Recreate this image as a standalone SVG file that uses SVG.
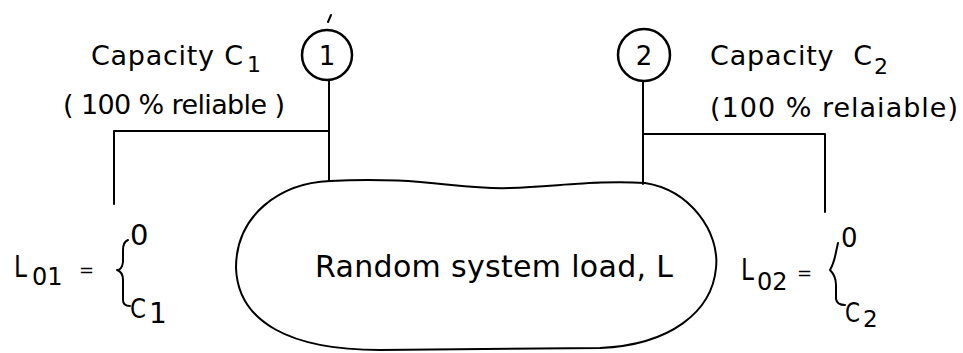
<svg xmlns="http://www.w3.org/2000/svg" width="963" height="353" viewBox="0 0 963 353">
<style>
.t{font-family:"DejaVu Sans","Liberation Sans",sans-serif;fill:#000}
.ln{fill:none;stroke:#000;stroke-width:2;stroke-linecap:round;stroke-linejoin:round}
.nd{fill:#fff;stroke:#000;stroke-width:2.5}
</style>
<rect width="963" height="353" fill="#fff"/>
<g id="connectors">
<path class="ln" d="M329 81 L329 181"/>
<path class="ln" d="M329 131 L114 131 L114 204"/>
<path class="ln" d="M643 81 L643 184"/>
<path class="ln" d="M643 134 L825 134 L825 212"/>
</g>
<g id="node1">
<circle class="nd" cx="327" cy="55" r="25"/>
<text class="t" x="327" y="65" font-size="26" text-anchor="middle">1</text>
<path class="ln" d="M328 22 L331 15" stroke-width="1.2"/>
</g>
<g id="node2">
<circle class="nd" cx="644" cy="55" r="26"/>
<text class="t" x="644" y="65" font-size="26" text-anchor="middle">2</text>
</g>
<g id="label1">
<text class="t" x="91" y="65" font-size="27" textLength="152" lengthAdjust="spacing">Capacity C</text>
<text class="t" x="247" y="72" font-size="22">1</text>
<text class="t" x="63" y="114" font-size="27" textLength="222" lengthAdjust="spacing">( 100 % reliable )</text>
</g>
<g id="label2">
<text class="t" x="710" y="65" font-size="27" textLength="162" lengthAdjust="spacing" xml:space="preserve">Capacity  C</text>
<text class="t" x="874" y="74" font-size="22">2</text>
<text class="t" x="710" y="117" font-size="27" textLength="248" lengthAdjust="spacing">(100 % relaiable)</text>
</g>
<g id="load">
<path class="ln" d="M330 181 C420 176 460 190 510 188 C560 186 600 180 645 183 C690 190 720 232 716 268 C712 312 670 345 600 348 L380 350 C290 350 238 322 236 268 C236 215 280 183 330 181 Z"/>
<text class="t" x="315" y="277" font-size="30" textLength="358" lengthAdjust="spacing">Random system load, L</text>
</g>
<g id="L01">
<text class="t" x="14" y="277" font-size="30" textLength="13" lengthAdjust="spacingAndGlyphs">L</text>
<text class="t" x="32" y="285" font-size="24">01</text>
<text class="t" x="79" y="276" font-size="18">=</text>
<path class="ln" d="M128 240 Q123 242 123 250 L123 262 Q122 270 117 270 Q123 272 123 280 L123 300 Q123 306 130 306"/>
<text class="t" x="130" y="245" font-size="29">0</text>
<text class="t" x="130" y="318" font-size="27" textLength="16" lengthAdjust="spacingAndGlyphs">C</text>
<text class="t" x="149" y="323" font-size="28">1</text>
</g>
<g id="L02">
<text class="t" x="741" y="280" font-size="30" textLength="13" lengthAdjust="spacingAndGlyphs">L</text>
<text class="t" x="757" y="290" font-size="24">02</text>
<text class="t" x="797" y="279" font-size="18">=</text>
<path class="ln" d="M838 243 L836 252 Q834 263 830 270 Q836 276 836 285 L836 299 Q837 305 845 305"/>
<text class="t" x="841" y="247" font-size="26">0</text>
<text class="t" x="845" y="322" font-size="26" textLength="15" lengthAdjust="spacingAndGlyphs">C</text>
<text class="t" x="863" y="327" font-size="23">2</text>
</g>
</svg>
